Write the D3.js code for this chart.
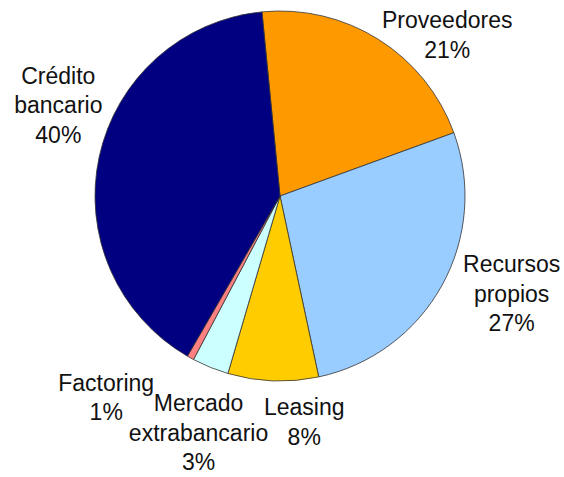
<!DOCTYPE html>
<html>
<head>
<meta charset="utf-8">
<script src="https://cdn.jsdelivr.net/npm/d3@7"></script>
<style>
  body { margin: 0; background: #fff; }
  svg { display: block; }
</style>
</head>
<body>
<div id="vis"></div>
<script>
// slice data, in drawing order (clockwise from the top)
var categories = ['Proveedores', 'Recursos propios', 'Leasing', 'Mercado extrabancario', 'Factoring', 'Crédito bancario'];
var values = [21, 27.2, 7.9, 3.2, 0.6, 40.1];
var colors = ['#FF9900', '#99CCFF', '#FFCC00', '#CCFFFF', '#FF8080', '#000080'];
// how each label is broken into lines
var labelLines = [
  ['Proveedores'],
  ['Recursos', 'propios'],
  ['Leasing'],
  ['Mercado', 'extrabancario'],
  ['Factoring'],
  ['Crédito', 'bancario']
];

var width = 564;
var height = 477;
var cx = 280, cy = 196;
var radius = 185;
var startDeg = -5.6;

// nudges from the default outside-label spot
var labelNudge = [[42, 38], [26, -16], [33, -9], [7, 19], [-60, -4], [8, -41]];
var labelRadius = 235;
var lineHeight = 29.5;

var svg = d3.select('#vis').append('svg')
  .attr('width', width)
  .attr('height', height);

var g = svg.append('g')
  .attr('transform', 'translate(' + cx + ',' + cy + ')');

var pie = d3.pie()
  .sort(null)
  .value(function (d) { return d; })
  .startAngle(startDeg * Math.PI / 180)
  .endAngle(startDeg * Math.PI / 180 + 2 * Math.PI);

var arcs = pie(values);

var arc = d3.arc().innerRadius(0).outerRadius(radius);
var labelArc = d3.arc().innerRadius(labelRadius).outerRadius(labelRadius);

g.selectAll('path.slice')
  .data(arcs)
  .enter().append('path')
  .attr('class', 'slice')
  .attr('d', arc)
  .style('fill', function (d, i) { return colors[i]; })
  .style('stroke', '#333')
  .style('stroke-width', '0.8px');

var total = d3.sum(values);

var labels = g.selectAll('text.lbl')
  .data(arcs)
  .enter().append('text')
  .attr('class', 'lbl')
  .attr('text-anchor', 'middle')
  .style('font-family', 'Liberation Sans, Arial, sans-serif')
  .style('font-size', '23px')
  .style('fill', '#111')
  .attr('transform', function (d, i) {
    var c = labelArc.centroid(d);
    return 'translate(' + (c[0] + labelNudge[i][0]) + ',' + (c[1] + labelNudge[i][1]) + ')';
  });

labels.each(function (d, i) {
  var lines = labelLines[i].concat([Math.round(values[i] / total * 100) + '%']);
  var t = d3.select(this);
  var top = -(lines.length - 1) * lineHeight / 2 + 8;
  lines.forEach(function (s, k) {
    t.append('tspan')
      .attr('x', 0)
      .attr('y', top + k * lineHeight)
      .text(s);
  });
});
</script>
</body>
</html>
